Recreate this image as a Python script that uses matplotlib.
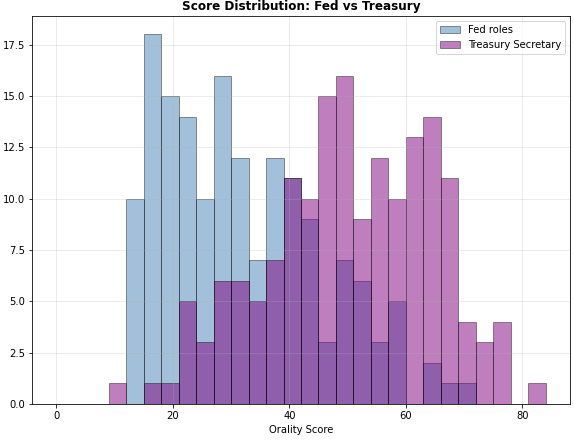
import numpy as np
import matplotlib
matplotlib.use('Agg')
import matplotlib.pyplot as plt

# bin edges 0..84, width 3
bin_edges = np.arange(0, 87, 3)
fed_counts = [0, 0, 0, 0, 10, 18, 15, 14, 10, 16, 12, 7, 12, 11,
              9, 3, 7, 6, 3, 5, 0, 2, 1, 1, 0, 0, 0, 0]
treasury_counts = [0, 0, 0, 1, 0, 1, 1, 5, 3, 6, 6, 5, 7, 11,
                   10, 15, 16, 9, 12, 10, 13, 14, 11, 4, 3, 4, 0, 1]

centers = (bin_edges[:-1] + bin_edges[1:]) / 2

fig, ax = plt.subplots(figsize=(574/72, 441/72), dpi=72)
fig.subplots_adjust(left=32/574, right=570/574, top=1 - 16/441, bottom=1 - 404/441)
ax.hist(centers, bins=bin_edges, weights=fed_counts, color='steelblue',
        alpha=0.5, edgecolor='black', linewidth=0.8, label='Fed roles')
ax.hist(centers, bins=bin_edges, weights=treasury_counts, color='purple',
        alpha=0.5, edgecolor='black', linewidth=0.8, label='Treasury Secretary')
ax.set_xlabel('Orality Score')
ax.set_title('Score Distribution: Fed vs Treasury', fontweight='bold')
ax.legend(loc='upper right')
ax.grid(True, alpha=0.3)
plt.savefig('out.png')
